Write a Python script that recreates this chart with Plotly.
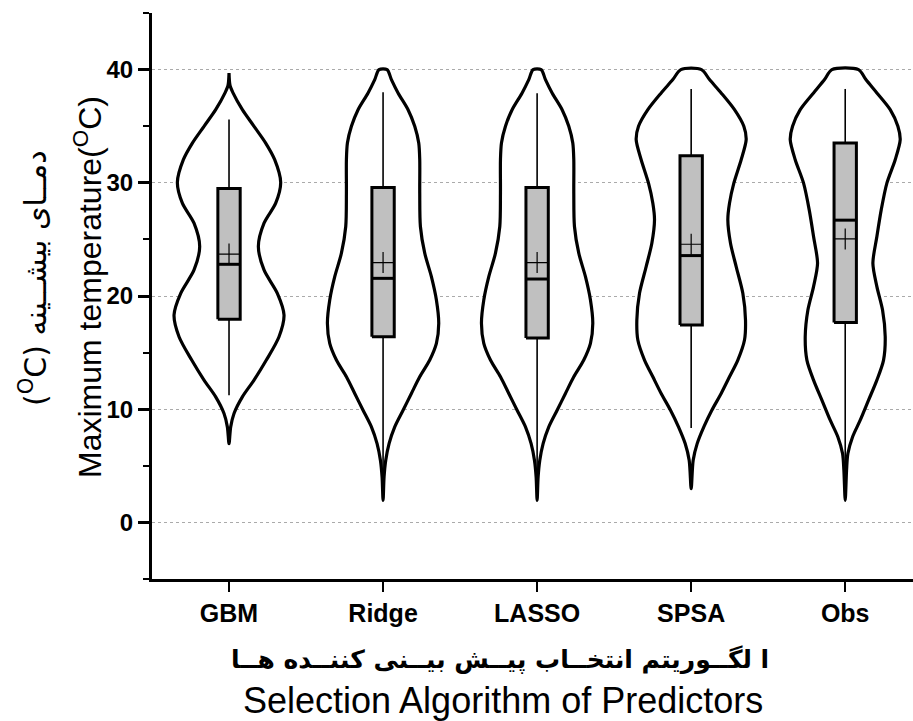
import plotly.graph_objects as go

# ---------------- data ----------------
categories = ["GBM", "Ridge", "LASSO", "SPSA", "Obs"]

# box statistics (°C)
q1_vals = [17.94, 16.40, 16.30, 17.43, 17.67]
median_vals = [22.80, 21.56, 21.50, 23.57, 26.70]
q3_vals = [29.50, 29.59, 29.59, 32.39, 33.51]
mean_vals = [23.70, 22.95, 22.95, 24.57, 25.04]
whisker_low = [11.24, 4.50, 4.50, 8.35, 4.00]
whisker_high = [35.60, 38.00, 37.90, 38.29, 38.29]

# violin density profiles: temperature levels and relative density (0..165)
gbm_y = [39.70, 38.60, 37.94, 36.46, 34.99, 33.51, 32.04, 30.03, 28.20, 26.43, 24.37,
         22.30, 20.24, 18.32, 16.40, 14.34, 12.57, 11.09, 9.62, 8.44, 6.96]
gbm_d = [0, 3, 12, 40, 75, 110, 137, 155, 140, 105, 88,
         105, 145, 165, 150, 112, 75, 40, 15, 5, 0]

ridge_y = [40.00, 39.12, 37.94, 36.46, 34.99, 33.51, 32.04, 29.09, 26.14, 23.78,
           21.71, 19.65, 17.58, 15.81, 14.34, 12.86, 11.39, 9.91, 8.44, 6.96,
           5.49, 4.01, 1.95]
ridge_d = [12, 25, 45, 75, 95, 107, 110, 110, 112, 125,
           145, 160, 167, 160, 140, 110, 85, 60, 35, 18,
           8, 3, 0]

lasso_y = [40.00, 39.12, 37.94, 36.46, 34.99, 33.51, 32.04, 29.09, 26.14, 23.78,
           21.71, 19.65, 17.58, 15.81, 14.34, 12.86, 11.39, 9.91, 8.44, 6.96,
           5.49, 4.01, 1.95]
lasso_d = [12, 25, 45, 75, 95, 107, 110, 110, 112, 125,
           145, 160, 167, 160, 140, 110, 85, 60, 35, 18,
           8, 3, 0]

spsa_y = [40.00, 39.12, 37.94, 36.46, 34.99, 33.81, 32.04, 29.97, 28.20, 26.73,
          24.66, 22.60, 20.24, 17.88, 16.11, 14.34, 12.86, 11.39, 9.91, 8.44,
          6.96, 5.49, 2.98]
spsa_d = [31, 55, 90, 130, 158, 165, 150, 128, 115, 110,
          118, 135, 155, 163, 160, 140, 115, 90, 62, 38,
          18, 6, 0]

obs_y = [40.00, 39.12, 37.94, 36.46, 34.99, 33.81, 32.04, 29.97, 27.61, 25.25,
         22.89, 20.83, 18.76, 16.40, 14.34, 12.57, 10.80, 9.03, 7.55, 6.08,
         4.60, 1.95]
obs_d = [40, 62, 95, 135, 158, 165, 150, 125, 108, 95,
         83, 95, 112, 120, 115, 95, 70, 45, 22, 8,
         4, 0]

profiles_y = [gbm_y, ridge_y, lasso_y, spsa_y, obs_y]
profiles_d = [gbm_d, ridge_d, lasso_d, spsa_d, obs_d]

y_ticks = [0, 10, 20, 30, 40]

# ---------------- styling ----------------
HALF_WIDTH = 0.357     # max half-width of a violin (category units)
DENS_MAX = 165.0
BOX_WIDTH = 0.145
FONT = "Liberation Sans, Arial, sans-serif"
FA_FONT = "DejaVu Sans, sans-serif"

positions = list(range(len(categories)))

fig = go.Figure()

# violins
for pos, ys, ds in zip(positions, profiles_y, profiles_d):
    right_x = [pos + d / DENS_MAX * HALF_WIDTH for d in ds]
    left_x = [pos - d / DENS_MAX * HALF_WIDTH for d in ds]
    xs = right_x + left_x[::-1][1:] + [right_x[0]]
    yy = ys + ys[::-1][1:] + [ys[0]]
    fig.add_trace(go.Scatter(
        x=xs, y=yy, mode="lines", fill="toself", fillcolor="white",
        line=dict(color="black", width=3.2, shape="spline", smoothing=0.8),
        hoverinfo="skip", showlegend=False))

# whiskers
wx, wy = [], []
for pos, lo, q1, q3, hi in zip(positions, whisker_low, q1_vals, q3_vals, whisker_high):
    wx += [pos, pos, None, pos, pos, None]
    wy += [q3, hi, None, lo, q1, None]
fig.add_trace(go.Scatter(x=wx, y=wy, mode="lines",
                         line=dict(color="black", width=1.6),
                         hoverinfo="skip", showlegend=False))

# boxes (interquartile range), drawn in the scatter layer so they sit above the violins
half = BOX_WIDTH / 2
for pos, q1, q3 in zip(positions, q1_vals, q3_vals):
    fig.add_trace(go.Scatter(
        x=[pos - half, pos + half, pos + half, pos - half, pos - half],
        y=[q1, q1, q3, q3, q1],
        mode="lines", fill="toself", fillcolor="#c0c0c0",
        line=dict(color="black", width=3),
        hoverinfo="skip", showlegend=False))

# medians
mx, my = [], []
for pos, m in zip(positions, median_vals):
    mx += [pos - half, pos + half, None]
    my += [m, m, None]
fig.add_trace(go.Scatter(x=mx, y=my, mode="lines",
                         line=dict(color="black", width=3),
                         hoverinfo="skip", showlegend=False))

# means
fig.add_trace(go.Scatter(
    x=positions, y=mean_vals, mode="markers",
    marker=dict(symbol="cross-thin", size=15, line=dict(color="black", width=1.2)),
    hoverinfo="skip", showlegend=False))

fig.update_layout(
    width=913, height=721,
    margin=dict(l=152, r=0, t=13, b=142),
    paper_bgcolor="white", plot_bgcolor="white",
    showlegend=False,
    xaxis=dict(
        range=[-0.5, 4.44], tickmode="array", tickvals=positions, ticktext=categories,
        showline=True, linecolor="black", linewidth=3,
        ticks="outside", ticklen=10, tickwidth=1.5, tickcolor="black",
        showgrid=False, zeroline=False,
        tickfont=dict(family=FONT, size=25, color="black", weight="bold"),
    ),
    yaxis=dict(
        range=[-5, 45], tickmode="array", tickvals=y_ticks,
        showline=True, linecolor="black", linewidth=3,
        ticks="outside", ticklen=11, tickwidth=2.5, tickcolor="black",
        showgrid=True, gridcolor="#aaaaaa", griddash="dot", gridwidth=1,
        zeroline=False,
        minor=dict(tickmode="linear", tick0=5, dtick=10, ticks="outside",
                   ticklen=6, tickwidth=2, tickcolor="black", showgrid=False),
        tickfont=dict(family=FONT, size=24, color="black", weight="bold"),
    ),
)

plot_w = 913 - 152
plot_h = 721 - 13 - 142

def px_to_paper_x(px):
    return (px - 152) / plot_w

def px_to_paper_y(py):
    return (721 - 142 - py) / plot_h

annotations = [
    dict(text="Maximum temperature(<sup>O</sup>C)", textangle=-90,
         x=px_to_paper_x(88), y=px_to_paper_y(287),
         font=dict(family=FONT, size=32, color="black")),
    dict(text="(<sup>O</sup>C) دمــای بیشــینه", textangle=-90,
         x=px_to_paper_x(33), y=px_to_paper_y(278),
         font=dict(family=FA_FONT, size=30, color="black")),
    dict(text="ا لگــوریتم انتخــاب پیــش بیــنی کننــده هــا",
         x=px_to_paper_x(500), y=px_to_paper_y(660),
         font=dict(family=FA_FONT, size=25, color="black", weight="bold")),
    dict(text="Selection Algorithm of Predictors",
         x=px_to_paper_x(503), y=px_to_paper_y(700),
         font=dict(family=FONT, size=36, color="black")),
]
for a in annotations:
    a.update(xref="paper", yref="paper", showarrow=False,
             xanchor="center", yanchor="middle")
fig.update_layout(annotations=annotations)

fig.write_html("out.html")
